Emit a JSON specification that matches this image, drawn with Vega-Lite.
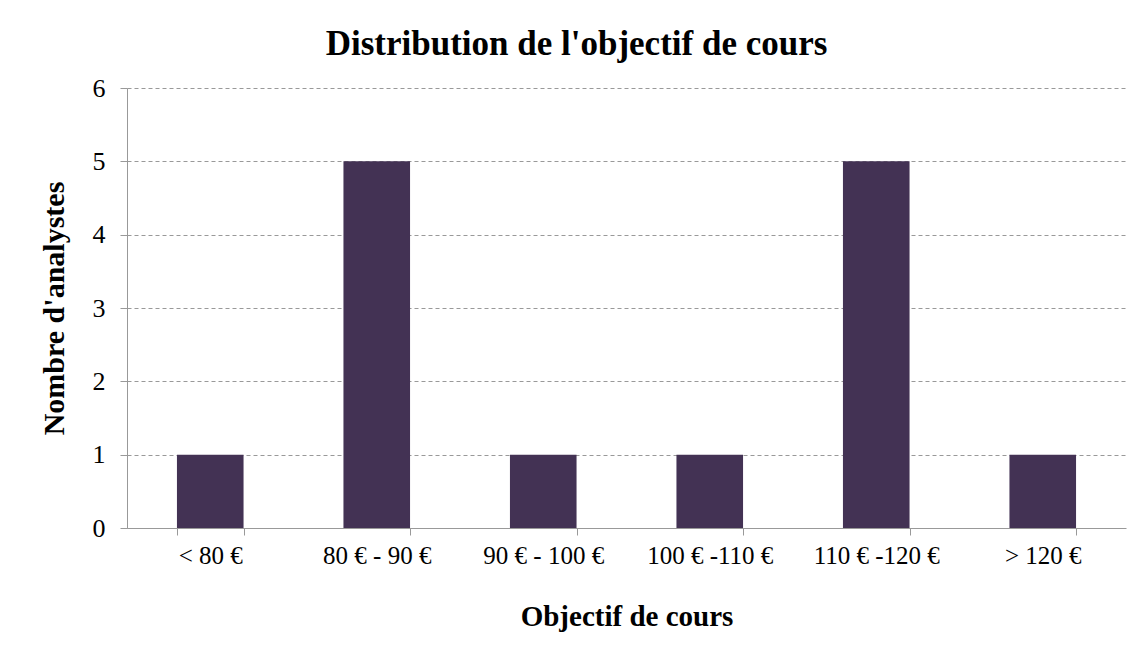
{
  "$schema": "https://vega.github.io/schema/vega-lite/v6.json",
  "width": 999,
  "height": 440,
  "autosize": {"type": "none"},
  "padding": {"left": 127, "top": 88, "right": 8, "bottom": 138},
  "background": "white",
  "title": {
    "text": "Distribution de l'objectif de cours",
    "font": "Liberation Serif",
    "fontSize": 35,
    "fontWeight": "bold",
    "color": "black",
    "anchor": "middle",
    "dx": -50,
    "offset": 13
  },
  "data": {
    "values": [
      {"cat": "< 80 €", "n": 1},
      {"cat": "80 € - 90 €", "n": 5},
      {"cat": "90 € - 100 €", "n": 1},
      {"cat": "100 € -110 €", "n": 1},
      {"cat": "110 € -120 €", "n": 5},
      {"cat": "> 120 €", "n": 1}
    ]
  },
  "mark": {"type": "bar", "color": "#433254"},
  "encoding": {
    "x": {
      "field": "cat",
      "type": "nominal",
      "sort": null,
      "scale": {"paddingInner": 0.6, "paddingOuter": 0.3},
      "axis": {
        "title": "Objectif de cours",
        "titleFont": "Liberation Serif",
        "titleFontSize": 29,
        "titleFontWeight": "bold",
        "titleColor": "black",
        "titlePadding": 34,
        "labelFont": "Liberation Serif",
        "labelFontSize": 25,
        "labelColor": "black",
        "labelAngle": 0,
        "labelPadding": 8,
        "tickBand": "extent",
        "tickSize": 7,
        "tickColor": "#999999",
        "domainColor": "#999999",
        "grid": false
      }
    },
    "y": {
      "field": "n",
      "type": "quantitative",
      "scale": {"domain": [0, 6]},
      "axis": {
        "title": "Nombre d'analystes",
        "titleFont": "Liberation Serif",
        "titleFontSize": 30,
        "titleFontWeight": "bold",
        "titleColor": "black",
        "titlePadding": 23,
        "labelFont": "Liberation Serif",
        "labelFontSize": 26,
        "labelColor": "black",
        "labelPadding": 15,
        "values": [0, 1, 2, 3, 4, 5, 6],
        "tickSize": 7,
        "tickColor": "#999999",
        "domainColor": "#999999",
        "grid": true,
        "gridColor": "#999999",
        "gridDash": [4, 3],
        "gridWidth": 1
      }
    }
  },
  "config": {"view": {"stroke": null}}
}
